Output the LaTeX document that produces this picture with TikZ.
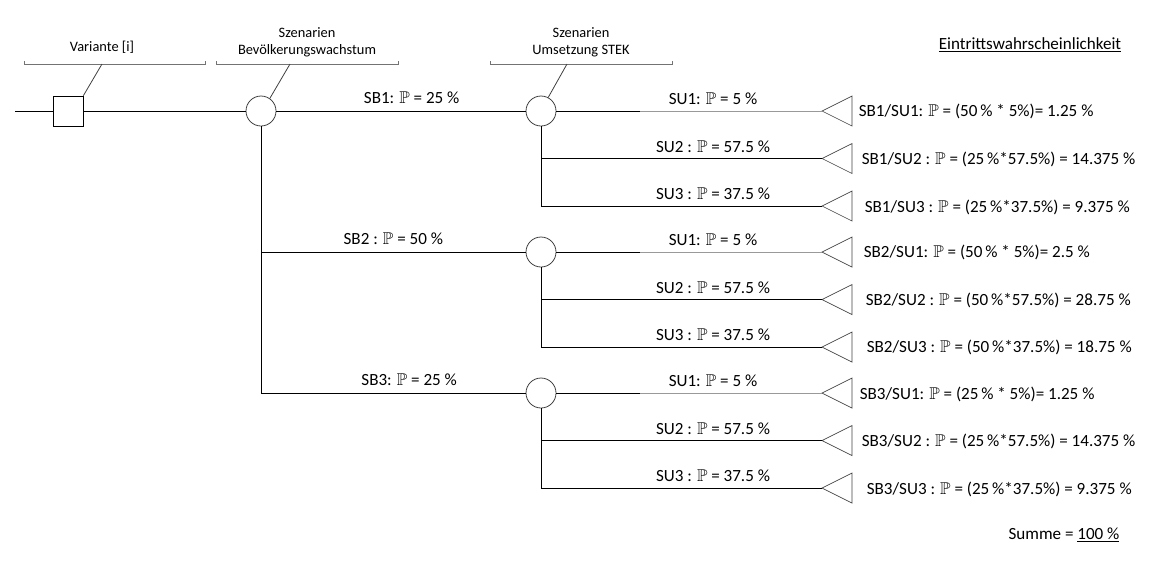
\documentclass[tikz,border=0pt]{standalone}
\usepackage{fontspec}
\setmainfont{Carlito}
\usepackage{amssymb}
\usetikzlibrary{positioning}

\begin{document}
\begin{tikzpicture}[x=0.75pt,y=-0.75pt,line width=0.6pt,
    decision/.style={draw, rectangle, minimum size=22.5pt, inner sep=0pt},
    chance/.style={draw=black!75, circle, minimum size=22.5pt, inner sep=0pt},
    bracket/.style={draw=black!55},
    small/.style={font=\fontsize{10.8}{12.6}\selectfont, align=center},
    prob/.style={font=\fontsize{12.8}{15}\selectfont},
    result/.style={prob, anchor=west}]
    \useasboundingbox (0,0) rectangle (1162,569);
    \def\P{$\mathbb{P}$}

    % Entscheidung und Szenarien
    \coordinate (start) at (15,111);
    \node[decision] (var) at (68,111) {};
    \node[chance] (sb) at (261,111) {};
    \node[chance] (sb1) at (541,111) {};
    \node[chance] (sb2) at (541,252) {};
    \node[chance] (sb3) at (541,393) {};

    \draw (start) -- (var);
    \draw (var) -- (sb);
    \draw (sb) -- (sb1) node[prob, midway, above=2pt, xshift=8pt] {SB1: \P{} = 25 \%};
    \draw (sb.south) |- (sb2) node[prob, pos=0.75, above=2pt] {SB2 : \P{} = 50 \%};
    \draw (sb.south) |- (sb3) node[prob, pos=0.78, above=2pt] {SB3: \P{} = 25 \%};

    % Klammern oben
    \draw[bracket] (24,61) -- (24,64) -- (205,64) -- (205,61);
    \draw[bracket] (216,61) -- (216,64) -- (398,64) -- (398,61);
    \draw[bracket] (490,61) -- (490,64) -- (672,64) -- (672,61);
    \node[small] (lvar) at (102,47) {Variante [i]};
    \node[small] (lsb) at (307,42) {Szenarien\\Bevölkerungswachstum};
    \node[small] (lsu) at (581,42) {Szenarien\\Umsetzung STEK};
    \draw[black!75] (102,64) -- (var.north east);
    \draw[black!75] (290,64) -- (sb.55);
    \draw[black!75] (567,64) -- (sb1.62);

    % Endknoten
    \foreach \g/\y in {1/111,2/252,3/393} {
        \coordinate (e\g1) at (822,\y);
        \coordinate (e\g2) at (822,\y+47.5);
        \coordinate (e\g3) at (822,\y+95);
        \foreach \k in {1,2,3}
            \draw[black!75, line width=0.5pt] (e\g\k) -- ++(30,-15) -- ++(0,30) -- cycle;
        \draw (sb\g) -- (640,\y);
        \draw[black!40] (640,\y) -- (e\g1);
        \draw (sb\g.south) |- (e\g2);
        \draw (sb\g.south) |- (e\g3);
        \node[prob] at (713,\y-12) {SU1: \P{} = 5 \%};
        \node[prob] at (713,\y+35.5) {SU2 : \P{} = 57.5 \%};
        \node[prob] at (713,\y+83) {SU3 : \P{} = 37.5 \%};
    }

    \node[result] (r11) at (854,111) {SB1/SU1: \P{} = (50\,\% * 5\%)= 1.25 \%};
    \node[result] (r12) at (857,159) {SB1/SU2 : \P{} = (25\,\%*57.5\%) = 14.375 \%};
    \node[result] (r13) at (860,207) {SB1/SU3 : \P{} = (25\,\%*37.5\%) = 9.375 \%};
    \node[result] (r21) at (859,252) {SB2/SU1: \P{} = (50\,\% * 5\%)= 2.5 \%};
    \node[result] (r22) at (861,300) {SB2/SU2 : \P{} = (50\,\%*57.5\%) = 28.75 \%};
    \node[result] (r23) at (862,347) {SB2/SU3 : \P{} = (50\,\%*37.5\%) = 18.75 \%};
    \node[result] (r31) at (855,394) {SB3/SU1: \P{} = (25\,\% * 5\%)= 1.25 \%};
    \node[result] (r32) at (857,441) {SB3/SU2 : \P{} = (25\,\%*57.5\%) = 14.375 \%};
    \node[result] (r33) at (862,489) {SB3/SU3 : \P{} = (25\,\%*37.5\%) = 9.375 \%};

    \node[prob] (titel) at (1030,45) {\underline{Eintrittswahrscheinlichkeit}};
    \node[prob] (summe) at (1064,535) {Summe = \underline{100 \%}};
\end{tikzpicture}
\end{document}
